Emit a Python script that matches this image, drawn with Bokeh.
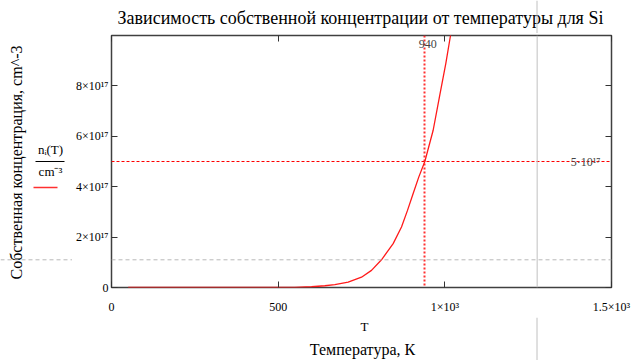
from math import pi
from bokeh.plotting import figure
from bokeh.layouts import column, row
from bokeh.models import Range1d, LinearAxis, FixedTicker, Label, Span
from bokeh.core.properties import value
from bokeh.embed import file_html
from bokeh.resources import INLINE

# ---- data ----
T_K = [50, 200, 400, 550, 600, 640, 670, 710, 750, 780, 810, 845, 870, 888, 905,
       922, 940, 965, 984, 1003, 1017, 1030]
n_i_e17 = [0, 0, 0, 0.005, 0.03, 0.07, 0.11, 0.21, 0.41, 0.68, 1.1, 1.74, 2.4, 3.06,
           3.73, 4.39, 5.0, 6.24, 7.57, 8.89, 10.0, 11.3]   # units of 1e17 cm^-3
T_mark = 940
n_mark = 5e17
x_ticks = [0, 500, 1000, 1500]
x_tick_labels = ["0", "500", "1×10³", "1.5×10³"]
y_ticks = [0, 2e17, 4e17, 6e17, 8e17]
y_tick_labels = ["0", "2×10¹⁷", "4×10¹⁷", "6×10¹⁷", "8×10¹⁷"]
title_text = "Зависимость собственной концентрации от температуры для Si"
x_title = "Температура, К"
x_var = "T"
y_title = "Собственная концентрация, cm^-3"
y_num = "nᵢ(T)"
y_den = "cm⁻³"
mark_label = "5·10¹⁷"

n_i = [v * 1e17 for v in n_i_e17]

FONT = "Liberation Serif"
W, H = 643, 360
LEFT_W = 72                # left strip (y title + fraction)
TOP_H = 33                 # title strip
BOT_Y = 317                # bottom strip starts here
FR_L, FR_R, FR_T, FR_B = 110, 611, 35, 287   # plot frame on page
XMAX, YMAX = 1500, 1e18
GUIDE_X, GUIDE_Y = 536.5, 259.3              # Mathcad page guides

def no_align(f):
    try:
        f.frame_align = False
    except Exception:
        pass

def strip(w, x0, x1, y0, y1):
    f = figure(width=w, height=y1 - y0, output_backend="svg", toolbar_location=None,
               x_range=Range1d(x0, x1), y_range=Range1d(-y1, -y0),
               x_axis_location=None, y_axis_location=None,
               min_border=0, min_border_left=0, min_border_right=0,
               min_border_top=0, min_border_bottom=0)
    f.grid.visible = False
    f.outline_line_color = None
    f.background_fill_color = "white"
    f.border_fill_color = "white"
    no_align(f)
    return f

def put_text(f, x, y, text, size, angle=0.0, color="black"):
    f.text(x=[x], y=[-y], text=[text], text_font=value(FONT), text_font_size=value(size),
           text_align="center", text_baseline="middle", angle=angle, text_color=color)

# ---- title strip ----
top = strip(W, 0, W, 0, TOP_H)
put_text(top, 360, 17, title_text, "18px")
top.segment(x0=[GUIDE_X], y0=[0], x1=[GUIDE_X], y1=[-TOP_H], line_color="#c0c0c0", line_width=1)

# ---- bottom strip ----
bot = strip(W, 0, W, BOT_Y, H)
put_text(bot, 364, 326, x_var, "13px")
put_text(bot, 362, 349, x_title, "16px")
bot.segment(x0=[GUIDE_X], y0=[-BOT_Y], x1=[GUIDE_X], y1=[-H], line_color="#c0c0c0", line_width=1)

# ---- left strip ----
lef = strip(LEFT_W, 0, LEFT_W, TOP_H, BOT_Y)
put_text(lef, 16, 162, y_title, "16px", angle=pi / 2)
put_text(lef, 50, 149, y_num, "13px")
put_text(lef, 50, 171, y_den, "13px")
lef.segment(x0=[35], y0=[-161], x1=[64], y1=[-161], line_color="black", line_width=1)
lef.segment(x0=[33], y0=[-187], x1=[57], y1=[-187], line_color="#ff3030", line_width=1.5)
lef.segment(x0=[0], y0=[-GUIDE_Y], x1=[LEFT_W], y1=[-GUIDE_Y],
            line_color="#b8b8b8", line_width=1, line_dash="4 3")

# ---- main plot ----
p = figure(width=W - LEFT_W, height=BOT_Y - TOP_H, output_backend="svg", toolbar_location=None,
           x_range=Range1d(0, XMAX), y_range=Range1d(0, YMAX),
           x_axis_location=None, y_axis_location=None,
           min_border_left=FR_L - LEFT_W, min_border_right=W - FR_R,
           min_border_top=FR_T - TOP_H, min_border_bottom=BOT_Y - FR_B)
p.grid.visible = False
p.outline_line_color = "#404040"
p.outline_line_width = 1.5
p.background_fill_color = "white"
p.border_fill_color = "white"
no_align(p)

def mk_axis(ticks, labels, show):
    ax = LinearAxis(ticker=FixedTicker(ticks=ticks))
    ax.axis_line_color = None
    ax.major_tick_in = 6
    ax.major_tick_out = 0
    ax.major_tick_line_color = "#333333"
    ax.minor_tick_line_color = None
    ax.major_label_text_font = FONT
    ax.major_label_text_color = "black"
    ax.major_label_text_font_size = "12px"
    if show:
        ax.major_label_overrides = {t: l for t, l in zip(ticks, labels)}
    else:
        ax.major_label_overrides = {t: "" for t in ticks}
        ax.major_label_standoff = 0
    return ax

bx = mk_axis(x_ticks, x_tick_labels, True)
bx.major_label_standoff = 12
p.add_layout(bx, "below")
p.add_layout(mk_axis(x_ticks, x_tick_labels, False), "above")
ly = mk_axis(y_ticks, y_tick_labels, True)
ly.major_label_standoff = 3
p.add_layout(ly, "left")
p.add_layout(mk_axis(y_ticks, y_tick_labels, False), "right")

def gx(xp):
    return (xp - FR_L) * XMAX / (FR_R - FR_L)

def gy(yp):
    return (FR_B - yp) * YMAX / (FR_B - FR_T)

# Mathcad page guides inside the frame
p.add_layout(Span(location=gy(GUIDE_Y), dimension="width", line_color="#b8b8b8",
                  line_width=1, line_dash="4 3"))
p.add_layout(Span(location=gx(GUIDE_X), dimension="height", line_color="#c0c0c0",
                  line_width=1))

# marker lines
p.vspan(x=[T_mark], line_color="#ff3030", line_width=2, line_dash="2 2")
p.hspan(y=[n_mark], line_color="#ff0000", line_width=1.2, line_dash="3 2")

# curve
p.line(T_K, n_i, line_color="#ff1a1a", line_width=1.3)

p.add_layout(Label(x=T_mark, y=gy(43.5), text=str(T_mark), text_font=FONT,
                   text_font_size="12px", text_align="center", text_baseline="middle",
                   x_offset=3))
p.add_layout(Label(x=gx(600), y=n_mark, text=mark_label, text_font=FONT,
                   text_font_size="12px", text_align="right", text_baseline="middle"))

layout = column(top, row(lef, p), bot)
open("out.html", "w").write(file_html(layout, INLINE))
